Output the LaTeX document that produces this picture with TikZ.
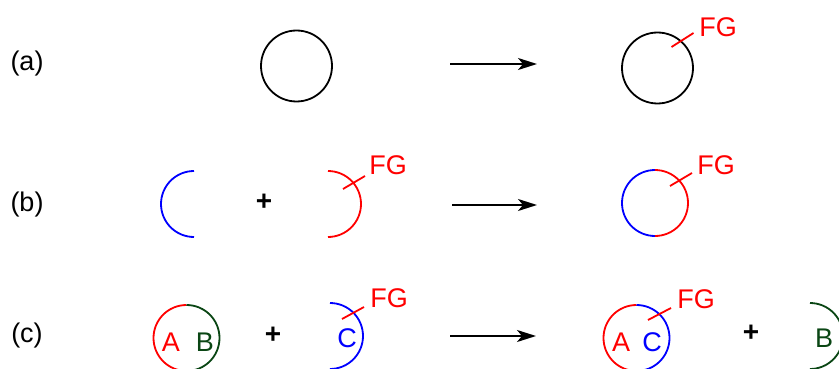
\documentclass[tikz,border=0pt]{standalone}
\usepackage{fontspec}
\setmainfont{Liberation Sans}
\usetikzlibrary{arrows.meta}
\definecolor{fgred}{RGB}{255,0,0}
\definecolor{fgblue}{RGB}{0,0,255}
\definecolor{fggreen}{RGB}{10,70,20}
\begin{document}
\begin{tikzpicture}[x=1pt,y=-1pt,every node/.style={inner sep=0pt,font=\fontsize{27}{32}\selectfont},ring/.style={draw,circle,line width=1.8pt,minimum size=71pt},half/.style={line width=1.8pt},fgtick/.style={fgred,line width=1.8pt},plus/.style={font=\fontsize{28}{32}\selectfont\bfseries},rxn/.style={line width=2pt,-{Stealth[length=19pt,width=12pt,inset=5pt]}}]
\useasboundingbox (0,0) rectangle (839,369);
\node (la) at (27,64) {(a)};
\node (lb) at (27,205) {(b)};
\node (lc) at (27,336) {(c)};
\node[ring] (a1) at (296.5,66) {};
\node[ring] (a2) at (657.5,68) {};
\coordinate (aS) at (450,64);\coordinate (aE) at (537,64);
\draw[rxn] (aS)--(aE);
\draw[fgtick] (a2.center) ++(14,-21)--++(22,-14);
\node[text=fgred] (fga) at (718,27) {FG};
\coordinate (b1) at (194,204);\coordinate (b2) at (328,204);\coordinate (b3) at (655,203);
\draw[half,fgblue] (b1) ++(0,33) arc[start angle=90,end angle=270,radius=33];
\node[plus] (pb) at (264,202) {+};
\draw[half,fgred] (b2) ++(0,-33) arc[start angle=-90,end angle=90,radius=33];
\draw[fgtick] (b2) ++(15,-15)--++(22,-13);
\node[text=fgred] (fgb) at (388,165) {FG};
\coordinate (bS) at (452,205);\coordinate (bE) at (537,205);
\draw[rxn] (bS)--(bE);
\draw[half,fgblue] (b3) ++(0,33) arc[start angle=90,end angle=270,radius=33];
\draw[half,fgred] (b3) ++(0,-33) arc[start angle=-90,end angle=90,radius=33];
\draw[fgtick] (b3) ++(15,-17)--++(22,-13);
\node[text=fgred] (fgb2) at (716,165) {FG};
\coordinate (c1) at (186.5,338);\coordinate (c2) at (330,336);\coordinate (c3) at (636.5,338);\coordinate (c4) at (810,336);
\draw[half,fgred] (c1) ++(0,33) arc[start angle=90,end angle=270,radius=33];
\draw[half,fggreen] (c1) ++(0,-33) arc[start angle=-90,end angle=90,radius=33];
\node[text=fgred] (A1) at (171,342) {A};
\node[text=fggreen] (B1) at (205,342) {B};
\node[plus] (pc1) at (273,335) {+};
\draw[half,fgblue] (c2) ++(0,-33) arc[start angle=-90,end angle=90,radius=33];
\node[text=fgblue] (C1) at (347,338) {C};
\draw[fgtick] (c2) ++(12,-17)--++(22,-12);
\node[text=fgred] (fgc) at (389,298) {FG};
\coordinate (cS) at (450,336);\coordinate (cE) at (536,336);
\draw[rxn] (cS)--(cE);
\draw[half,fgred] (c3) ++(0,33) arc[start angle=90,end angle=270,radius=33];
\draw[half,fgblue] (c3) ++(0,-33) arc[start angle=-90,end angle=90,radius=33];
\node[text=fgred] (A2) at (621,342) {A};
\node[text=fgblue] (C2) at (652,342) {C};
\draw[fgtick] (c3) ++(11.5,-18)--++(23,-12);
\node[text=fgred] (fgc2) at (696,299) {FG};
\node[plus] (pc2) at (751,333) {+};
\draw[half,fggreen] (c4) ++(0,-33) arc[start angle=-90,end angle=90,radius=33];
\node[text=fggreen] (B2) at (824,338) {B};
\end{tikzpicture}
\end{document}
